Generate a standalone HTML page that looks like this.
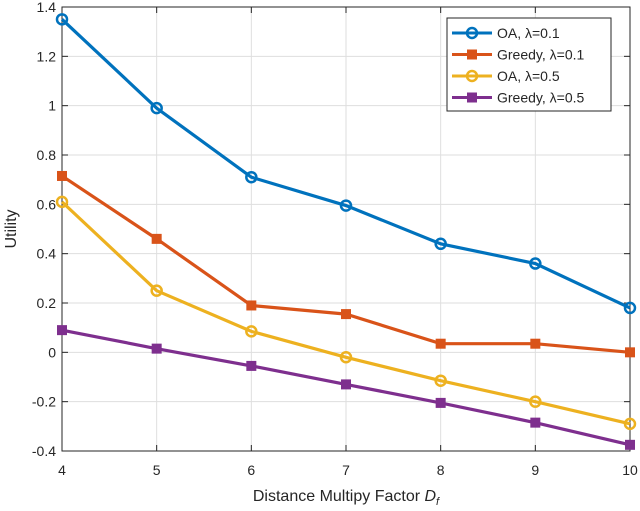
<!DOCTYPE html>
<html><head><meta charset="utf-8"><style>
body{margin:0;background:#fff;}
svg{display:block;font-family:"Liberation Sans",sans-serif;}
</style></head><body>
<svg id="chart" width="640" height="511" viewBox="0 0 640 511"></svg>
<script>
const categories=[4,5,6,7,8,9,10];
const oa01=[1.35,0.99,0.71,0.595,0.44,0.36,0.18];
const greedy01=[0.715,0.46,0.19,0.155,0.035,0.035,0.0];
const oa05=[0.61,0.25,0.085,-0.02,-0.115,-0.2,-0.29];
const greedy05=[0.09,0.015,-0.055,-0.13,-0.205,-0.285,-0.375];
const yTicks=[-0.4,-0.2,0,0.2,0.4,0.6,0.8,1,1.2,1.4];
const yTickLabels=["-0.4","-0.2","0","0.2","0.4","0.6","0.8","1","1.2","1.4"];
const seriesNames=["OA, λ=0.1","Greedy, λ=0.1","OA, λ=0.5","Greedy, λ=0.5"];

const NS="http://www.w3.org/2000/svg";
const svg=document.getElementById('chart');
const L=62,R=630,T=7,B=451;
const x=v=>L+(v-4)/(10-4)*(R-L);
const y=v=>B-(v+0.4)/(1.8)*(B-T);
function mk(tag,attrs,parent){const e=document.createElementNS(NS,tag);for(const k in attrs)e.setAttribute(k,attrs[k]);(parent||svg).appendChild(e);return e;}

const grid=mk('g',{});


categories.forEach(c=>mk('line',{x1:x(c),x2:x(c),y1:T,y2:B,stroke:'#dedede','stroke-width':1},grid));
yTicks.forEach(t=>mk('line',{x1:L,x2:R,y1:y(t),y2:y(t),stroke:'#dedede','stroke-width':1},grid));
const box=mk('rect',{x:L,y:T,width:R-L,height:B-T,fill:'none',stroke:'#262626','stroke-width':1});


categories.forEach(c=>{
 mk('line',{x1:x(c),x2:x(c),y1:B,y2:B-6,stroke:'#262626'});
 mk('line',{x1:x(c),x2:x(c),y1:T,y2:T+6,stroke:'#262626'});
 const t=mk('text',{x:x(c),y:B+24,'text-anchor':'middle','font-size':14,fill:'#262626'});
 t.textContent=c;
 
 
});
yTicks.forEach((v,i)=>{
 mk('line',{x1:L,x2:L+6,y1:y(v),y2:y(v),stroke:'#262626'});
 mk('line',{x1:R,x2:R-6,y1:y(v),y2:y(v),stroke:'#262626'});
 const t=mk('text',{x:L-6,y:y(v)+5,'text-anchor':'end','font-size':14,fill:'#262626'});
 t.textContent=yTickLabels[i];
 
 
});
const xt=mk('text',{x:(L+R)/2,y:501,'text-anchor':'middle','font-size':16,fill:'#262626'});
xt.innerHTML='Distance Multipy Factor <tspan font-style="italic">D</tspan><tspan font-style="italic" font-size="11" dy="4">f</tspan>';


const yt=mk('text',{x:16,y:(T+B)/2,'text-anchor':'middle','font-size':16,fill:'#262626',transform:`rotate(-90 16 ${(T+B)/2})`});
yt.textContent='Utility';



const series=[[oa01,'#0072bd','o'],[greedy01,'#d95319','s'],[oa05,'#edb120','o'],[greedy05,'#7e2f8e','s']];
const names=['series-oa-0.1','series-greedy-0.1','series-oa-0.5','series-greedy-0.5'];
function marker(g,cx,cy,col,shape){
 if(shape==='o')mk('circle',{cx,cy,r:5,fill:'none',stroke:col,'stroke-width':2.5},g);
 else mk('rect',{x:cx-5,y:cy-5,width:10,height:10,fill:col},g);
}
series.forEach(([vals,col,sh],i)=>{
 const g=mk('g',{});
 
 
 mk('polyline',{points:vals.map((v,j)=>x(categories[j])+','+y(v)).join(' '),fill:'none',stroke:col,'stroke-width':3.2},g);
 vals.forEach((v,j)=>marker(g,x(categories[j]),y(v),col,sh));
});
const lg=mk('g',{});


mk('rect',{x:447,y:18,width:164,height:93,fill:'#fff',stroke:'#262626','stroke-width':1},lg);
series.forEach(([v,col,sh],i)=>{
 const e=mk('g',{},lg);
 
 
 const yy=33+i*21.5;
 mk('line',{x1:452,x2:492,y1:yy,y2:yy,stroke:col,'stroke-width':3},e);
 marker(e,472,yy,col,sh);
 const t=mk('text',{x:497,y:yy+5,'font-size':14,fill:'#262626'},e);
 t.textContent=seriesNames[i];
});
</script>
</body></html>
